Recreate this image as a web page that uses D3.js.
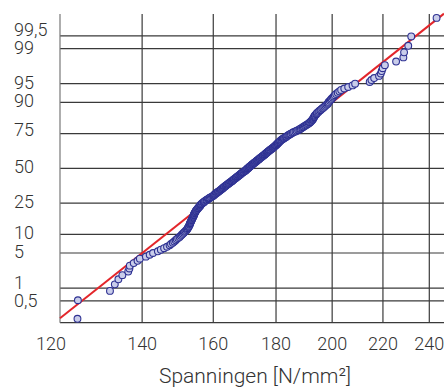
<!DOCTYPE html>
<html>
<head>
<meta charset="utf-8">
<script src="https://cdn.jsdelivr.net/npm/d3@7"></script>
<style>
  body { margin: 0; background: #fff; }
  text { font-family: Roboto, "Liberation Sans", Arial, sans-serif; font-weight: 300; fill: #333; }
</style>
</head>
<body>
<div id="chart"></div>
<script>
// sorted stresses [N/mm2]
const stresses = [
  124.0, 124.1, 131.8, 133.0, 133.9, 134.9, 136.4, 136.7, 136.8, 137.8,
  138.8, 139.4, 141.0, 142.0, 142.9, 144.2, 145.0, 145.9, 146.7, 147.4,
  147.8, 148.3, 148.7, 149.1, 149.4, 149.8, 150.2, 150.5, 150.8, 151.1,
  151.4, 151.6, 151.9, 152.2, 152.4, 152.5, 152.7, 152.8, 152.9, 153.1,
  153.1, 153.2, 153.3, 153.4, 153.5, 153.6, 153.7, 153.8, 153.9, 154.0,
  154.1, 154.2, 154.3, 154.3, 154.4, 154.5, 154.6, 154.7, 154.8, 154.9,
  155.0, 155.2, 155.3, 155.5, 155.6, 155.8, 155.9, 156.1, 156.2, 156.3,
  156.4, 156.6, 156.8, 157.1, 157.2, 157.4, 157.6, 157.9, 158.1, 158.4,
  158.6, 158.8, 159.0, 159.3, 159.6, 159.9, 160.1, 160.2, 160.4, 160.6,
  160.8, 161.0, 161.2, 161.4, 161.6, 161.8, 162.0, 162.2, 162.3, 162.5,
  162.7, 162.9, 163.0, 163.2, 163.4, 163.6, 163.8, 163.9, 164.1, 164.3,
  164.5, 164.7, 164.9, 165.1, 165.3, 165.5, 165.7, 165.8, 166.0, 166.2,
  166.3, 166.5, 166.7, 166.9, 167.1, 167.3, 167.4, 167.6, 167.8, 168.0,
  168.2, 168.3, 168.5, 168.7, 168.8, 169.0, 169.2, 169.4, 169.7, 169.9,
  170.0, 170.2, 170.3, 170.5, 170.6, 170.8, 171.0, 171.1, 171.3, 171.4,
  171.6, 171.8, 172.0, 172.1, 172.3, 172.5, 172.7, 172.8, 173.0, 173.2,
  173.4, 173.6, 173.7, 173.9, 174.1, 174.3, 174.5, 174.6, 174.8, 175.0,
  175.2, 175.4, 175.6, 175.8, 176.0, 176.2, 176.3, 176.5, 176.7, 176.9,
  177.1, 177.2, 177.4, 177.6, 177.8, 178.0, 178.2, 178.5, 178.7, 178.9,
  179.1, 179.3, 179.4, 179.6, 179.8, 180.0, 180.1, 180.3, 180.5, 180.6,
  180.8, 181.0, 181.2, 181.4, 181.5, 181.8, 182.0, 182.3, 182.6, 182.8,
  183.1, 183.4, 183.6, 183.9, 184.2, 184.5, 184.8, 185.1, 185.5, 185.8,
  186.2, 186.7, 187.1, 187.6, 188.0, 188.3, 188.6, 189.0, 189.3, 189.6,
  190.0, 190.3, 190.7, 191.0, 191.4, 191.7, 191.9, 192.2, 192.4, 192.7,
  192.8, 193.0, 193.1, 193.3, 193.4, 193.6, 193.8, 194.1, 194.3, 194.5,
  194.9, 195.2, 195.6, 195.9, 196.3, 196.7, 197.1, 197.5, 197.9, 198.3,
  198.5, 198.7, 199.1, 199.5, 199.8, 200.2, 200.6, 201.0, 201.5, 202.1,
  202.7, 203.4, 204.6, 206.1, 207.8, 208.8, 214.6, 215.3, 216.4, 218.4,
  219.1, 219.5, 219.9, 220.8, 225.5, 228.6, 228.9, 230.7, 232.0, 243.3
];

// fitted lognormal line
const fitMedian = 171.1;
const fitSigma = 0.1217;

const xTicks = [120, 140, 160, 180, 200, 220, 240];
const pctTicks = [0.5, 1, 5, 10, 25, 50, 75, 90, 95, 99, 99.5];
const pctLabels = ["0,5", "1", "5", "10", "25", "50", "75", "90", "95", "99", "99,5"];
const xTitle = "Spanningen [N/mm²]";

const W = 444, H = 387;
const plotLeft = 60, plotTop = 14, plotBottom = 322.7;

// inverse normal cdf (Acklam)
function probit(p) {
  const a = [-3.969683028665376e+01, 2.209460984245205e+02, -2.759285104469687e+02, 1.383577518672690e+02, -3.066479806614716e+01, 2.506628277459239e+00];
  const b = [-5.447609879822406e+01, 1.615858368580409e+02, -1.556989798598866e+02, 6.680131188771972e+01, -1.328068155288572e+01];
  const c = [-7.784894002430293e-03, -3.223964580411365e-01, -2.400758277161838e+00, -2.549732539343734e+00, 4.374664141464968e+00, 2.938163982698783e+00];
  const d = [7.784695709041462e-03, 3.224671290700398e-01, 2.445134137142996e+00, 3.754408661907416e+00];
  const pl = 0.02425;
  if (p < pl) {
    const q = Math.sqrt(-2 * Math.log(p));
    return (((((c[0]*q+c[1])*q+c[2])*q+c[3])*q+c[4])*q+c[5]) / ((((d[0]*q+d[1])*q+d[2])*q+d[3])*q+1);
  }
  if (p > 1 - pl) {
    const q = Math.sqrt(-2 * Math.log(1 - p));
    return -(((((c[0]*q+c[1])*q+c[2])*q+c[3])*q+c[4])*q+c[5]) / ((((d[0]*q+d[1])*q+d[2])*q+d[3])*q+1);
  }
  const q = p - 0.5, r = q * q;
  return (((((a[0]*r+a[1])*r+a[2])*r+a[3])*r+a[4])*r+a[5])*q / (((((b[0]*r+b[1])*r+b[2])*r+b[3])*r+b[4])*r+1);
}

const x = d3.scaleLog().domain([120, 240]).range([plotLeft, 429.3]);
const y = d3.scaleLinear().domain([-3, 3]).range([plotBottom, plotTop]);

const svg = d3.select("#chart").append("svg")
  .attr("width", W)
  .attr("height", H);

svg.append("rect").attr("width", W).attr("height", H).attr("fill", "#fff");

// horizontal grid
svg.append("g").selectAll("line")
  .data(pctTicks)
  .enter().append("line")
  .attr("x1", plotLeft).attr("x2", W)
  .attr("y1", d => y(probit(d / 100))).attr("y2", d => y(probit(d / 100)))
  .attr("stroke", "#3a3a3a").attr("stroke-width", 1.2);

// bottom line
svg.append("line")
  .attr("x1", plotLeft).attr("x2", W)
  .attr("y1", plotBottom).attr("y2", plotBottom)
  .attr("stroke", "#3a3a3a").attr("stroke-width", 1.2);

// vertical grid
svg.append("g").selectAll("line")
  .data(xTicks)
  .enter().append("line")
  .attr("x1", d => x(d)).attr("x2", d => x(d))
  .attr("y1", plotTop).attr("y2", plotBottom)
  .attr("stroke", d => d === 120 ? "#777" : "#3a3a3a").attr("stroke-width", 1.2);

// y labels
const yNudge = { "99,5": -5, "75": -3, "1": -4, "0,5": 1 };
svg.append("g").selectAll("text")
  .data(pctTicks)
  .enter().append("text")
  .attr("x", 14)
  .attr("y", (d, i) => y(probit(d / 100)) + 5 + (yNudge[pctLabels[i]] || 0))
  .style("font-size", "18px")
  .text((d, i) => pctLabels[i]);

// x labels
const xNudge = { 120: -9 };
svg.append("g").selectAll("text")
  .data(xTicks)
  .enter().append("text")
  .attr("x", d => x(d) + (xNudge[d] || 0))
  .attr("y", 350)
  .attr("text-anchor", "middle")
  .style("font-size", "18px")
  .text(d => d);

svg.append("text")
  .attr("x", 255).attr("y", 383)
  .attr("text-anchor", "middle")
  .style("font-size", "21px")
  .text(xTitle);

// fitted line
const lineEnd = x.invert(W);
const fit = d3.line()
  .x(d => x(d))
  .y(d => y(Math.log(d / fitMedian) / fitSigma));
svg.append("path")
  .datum([120, lineEnd])
  .attr("d", fit)
  .attr("fill", "none")
  .attr("stroke", "#e3262b")
  .attr("stroke-width", 2);

// points
const n = stresses.length;
svg.append("g").selectAll("circle")
  .data(stresses)
  .enter().append("circle")
  .attr("cx", d => x(d))
  .attr("cy", (d, i) => y(probit((i + 0.5) / n)))
  .attr("r", 3.4)
  .attr("fill", "#c9cdea")
  .attr("stroke", "#2e3192")
  .attr("stroke-width", 1.1);
</script>
</body>
</html>
